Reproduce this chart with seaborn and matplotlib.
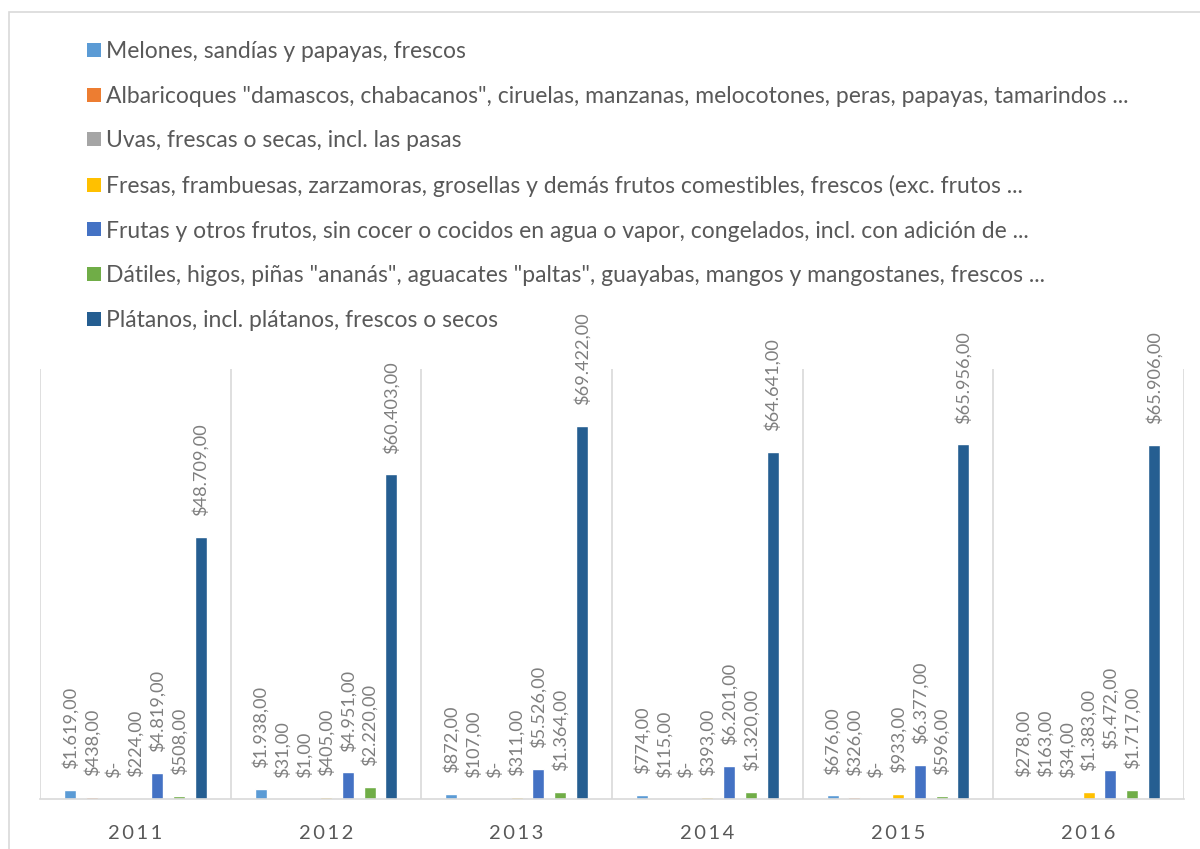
import matplotlib
matplotlib.use("Agg")
import matplotlib.pyplot as plt
import matplotlib.patches as mpatches
from matplotlib.lines import Line2D
import seaborn as sns
import pandas as pd

years = ["2011", "2012", "2013", "2014", "2015", "2016"]

series_names = [
    "Melones, sandías y papayas, frescos",
    "Albaricoques \"damascos, chabacanos\", ciruelas, manzanas, melocotones, peras, papayas, tamarindos ...",
    "Uvas, frescas o secas, incl. las pasas",
    "Fresas, frambuesas, zarzamoras, grosellas y demás frutos comestibles, frescos (exc. frutos ...",
    "Frutas y otros frutos, sin cocer o cocidos en agua o vapor, congelados, incl. con adición de ...",
    "Dátiles, higos, piñas \"ananás\", aguacates \"paltas\", guayabas, mangos y mangostanes, frescos ...",
    "Plátanos, incl. plátanos, frescos o secos",
]

melones = [1619, 1938, 872, 774, 676, 278]
albaricoques = [438, 31, 107, 115, 326, 163]
uvas = [0, 1, 0, 0, 0, 34]
fresas = [224, 405, 311, 393, 933, 1383]
frutas_congeladas = [4819, 4951, 5526, 6201, 6377, 5472]
datiles = [508, 2220, 1364, 1320, 596, 1717]
platanos = [48709, 60403, 69422, 64641, 65956, 65906]

series_values = [melones, albaricoques, uvas, fresas, frutas_congeladas, datiles, platanos]

colors = ["#5B9BD5", "#ED7D31", "#A5A5A5", "#FFC000", "#4472C4", "#70AD47", "#255E91"]

rows = []
for name, vals in zip(series_names, series_values):
    for yr, v in zip(years, vals):
        rows.append({"Año": yr, "Producto": name, "Valor": v})
df = pd.DataFrame(rows)


def money(v):
    if v == 0:
        return "$-"
    s = f"{v:,.2f}"
    s = s.replace(",", "X").replace(".", ",").replace("X", ".")
    return "$" + s


sns.set_style("white")
plt.rcParams["font.family"] = ["Lato", "DejaVu Sans"]

fig = plt.figure(figsize=(12, 8.49), dpi=100)
ax = fig.add_axes([40 / 1200, 1 - 799 / 849, (1184 - 40) / 1200, (799 - 369) / 849])

sns.barplot(
    data=df, x="Año", y="Valor", hue="Producto",
    order=years, hue_order=series_names, palette=colors, saturation=1,
    width=0.8, gap=0.45, errorbar=None, ax=ax, legend=False,
)

for cont, vals in zip(ax.containers, series_values):
    ax.bar_label(cont, labels=[money(v) for v in vals], rotation=90,
                 padding=15, color="#7F7F7F", fontsize=13.1)

ax.set_ylim(0, 80000)
ax.set_xlim(-0.5, 5.5)
ax.set_yticks([])
ax.set_xlabel("")
ax.set_ylabel("")
ax.set_xticks(range(len(years)))
ax.set_xticklabels(["\u2009".join(y) for y in years], color="#595959", fontsize=14.5)
ax.tick_params(axis="x", length=0, pad=19)
ax.set_xticks([i - 0.5 for i in range(len(years) + 1)], minor=True)
ax.grid(False)
ax.grid(True, which="minor", axis="x", color="#D9D9D9", linewidth=1.2)
for side in ["top", "right", "left"]:
    ax.spines[side].set_visible(False)
ax.spines["bottom"].set_color("#D9D9D9")
ax.spines["bottom"].set_linewidth(1.2)

# square swatches for the legend
handles = [Line2D([], [], linestyle="none", marker="s", markersize=9.5,
                  markerfacecolor=c, markeredgewidth=0) for c in colors]
fig.legend(
    handles, series_names, loc="upper left", bbox_to_anchor=(88 / 1200, 1 - 41 / 849),
    frameon=False, fontsize=16.5, labelcolor="#595959",
    handlelength=0.55, handletextpad=0.25,
    labelspacing=1.03, borderpad=0, borderaxespad=0,
)

fig.patches.append(mpatches.Rectangle(
    (9 / 1200, -0.05), 1.2, 1 - 12 / 849 + 0.05, transform=fig.transFigure,
    fill=False, edgecolor="#D9D9D9", linewidth=1.2,
))

fig.savefig("out.png", dpi=100, facecolor="white")
